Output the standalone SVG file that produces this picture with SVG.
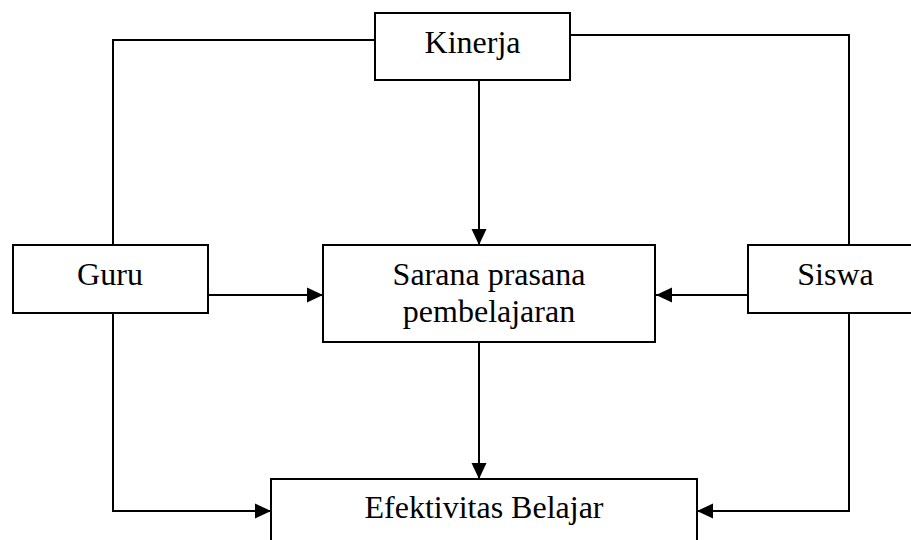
<svg xmlns="http://www.w3.org/2000/svg" width="911" height="540" viewBox="0 0 911 540">
<style>
.box{fill:#fff;stroke:#000;stroke-width:2}
.t{font-family:"Liberation Serif","Times New Roman",serif;font-size:32px;fill:#000;text-anchor:middle}
.c{fill:none;stroke:#000;stroke-width:2}
</style>
<defs>
<marker id="ah" markerUnits="userSpaceOnUse" markerWidth="16" markerHeight="16" viewBox="0 0 16 16" refX="16" refY="8" orient="auto">
<path d="M0,0.5 L16,8 L0,15.5 Z" fill="#000"/>
</marker>
</defs>
<rect width="911" height="540" fill="#fff"/>
<g id="connectors">
<polyline class="c" points="113,245 113,40 375,40"/>
<polyline class="c" points="849,245 849,35 570,35"/>
<line class="c" x1="479" y1="80" x2="479" y2="245" marker-end="url(#ah)"/>
<line class="c" x1="208" y1="295" x2="323" y2="295" marker-end="url(#ah)"/>
<line class="c" x1="748" y1="295" x2="656" y2="295" marker-end="url(#ah)"/>
<line class="c" x1="479" y1="342" x2="479" y2="479" marker-end="url(#ah)"/>
<polyline class="c" points="113,313 113,511 271,511" marker-end="url(#ah)"/>
<polyline class="c" points="849,313 849,511 697,511" marker-end="url(#ah)"/>
</g>
<g id="kinerja">
<rect class="box" x="375" y="13" width="195" height="67"/>
<text class="t" x="472.5" y="53">Kinerja</text>
</g>
<g id="guru">
<rect class="box" x="13" y="245" width="195" height="68"/>
<text class="t" x="110" y="285">Guru</text>
</g>
<g id="siswa">
<rect class="box" x="748" y="245" width="175" height="68"/>
<text class="t" x="835.5" y="285">Siswa</text>
</g>
<g id="sarana">
<rect class="box" x="323" y="245" width="332" height="97"/>
<text class="t" x="489" y="285">Sarana prasana</text>
<text class="t" x="489" y="322">pembelajaran</text>
</g>
<g id="efektivitas">
<rect class="box" x="271" y="479" width="426" height="80"/>
<text class="t" x="484" y="518">Efektivitas Belajar</text>
</g>
</svg>
